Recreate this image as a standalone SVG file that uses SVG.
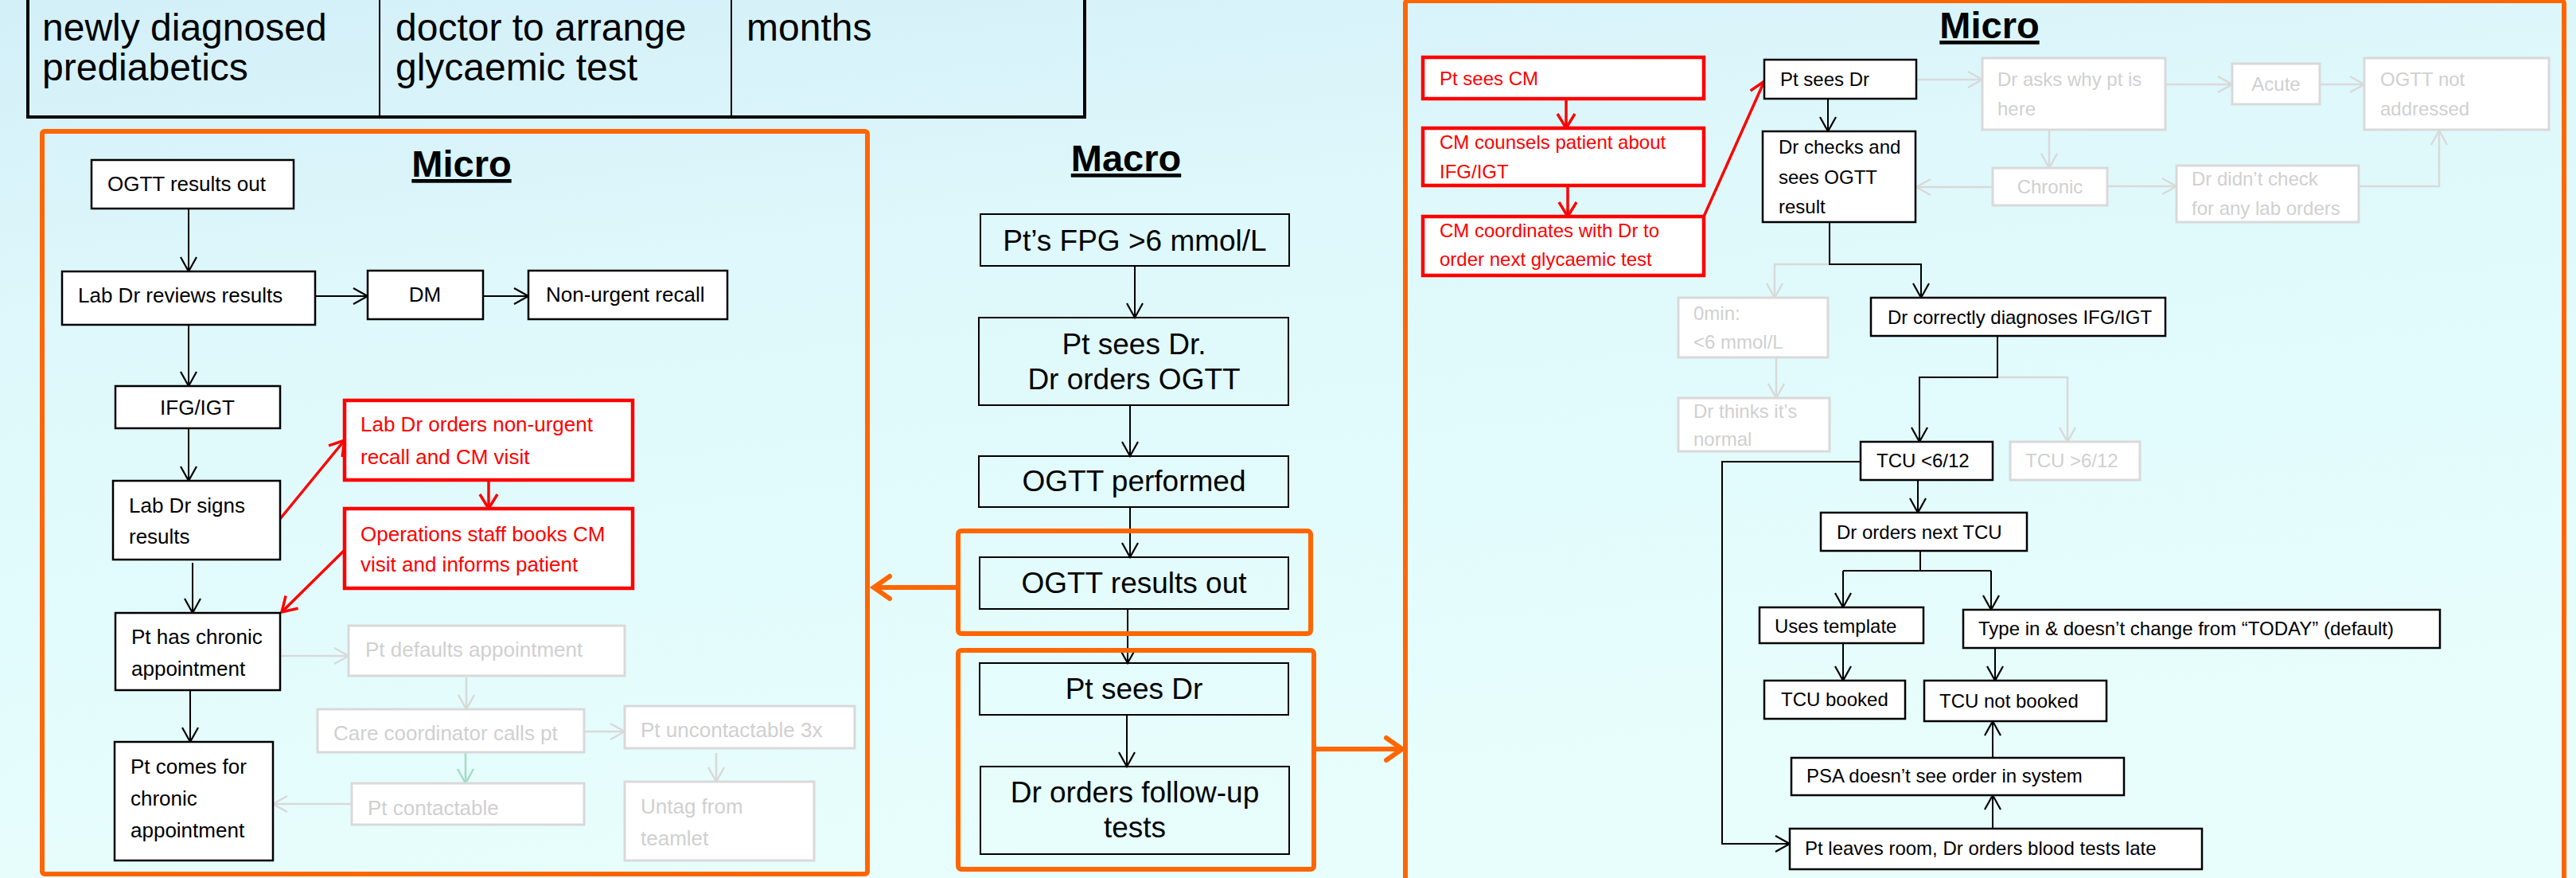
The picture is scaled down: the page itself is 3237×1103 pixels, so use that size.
<svg xmlns="http://www.w3.org/2000/svg" width="3237" height="1103" viewBox="0 0 3237 1103">
<defs>
<linearGradient id="bg" x1="0" y1="0" x2="0.3" y2="1">
<stop offset="0" stop-color="#d3eff8"/>
<stop offset="0.35" stop-color="#def8fb"/>
<stop offset="1" stop-color="#e7fefc"/>
</linearGradient>
<marker id="ak" viewBox="-22 -14 26 28" markerWidth="26" markerHeight="28" refX="0" refY="0" orient="auto" markerUnits="userSpaceOnUse"><path d="M-18,-10 L0,0 L-18,10" fill="none" stroke="#000" stroke-width="2.2"/></marker>
<marker id="ar" viewBox="-24 -16 30 32" markerWidth="30" markerHeight="32" refX="0" refY="0" orient="auto" markerUnits="userSpaceOnUse"><path d="M-18,-11 L0,0 L-18,11" fill="none" stroke="#f00" stroke-width="3.5"/></marker>
<marker id="ag" viewBox="-22 -14 26 28" markerWidth="26" markerHeight="28" refX="0" refY="0" orient="auto" markerUnits="userSpaceOnUse"><path d="M-18,-10 L0,0 L-18,10" fill="none" stroke="#d9d9d9" stroke-width="2.5"/></marker>
<marker id="agr" viewBox="-22 -14 26 28" markerWidth="26" markerHeight="28" refX="0" refY="0" orient="auto" markerUnits="userSpaceOnUse"><path d="M-18,-10 L0,0 L-18,10" fill="none" stroke="#a3dcc6" stroke-width="2.5"/></marker>
<marker id="ao" viewBox="-28 -20 34 40" markerWidth="34" markerHeight="40" refX="0" refY="0" orient="auto" markerUnits="userSpaceOnUse"><path d="M-20,-14 L0,0 L-20,14" fill="none" stroke="#ff6600" stroke-width="6" stroke-linecap="round"/></marker>
</defs>
<style>
.bx{fill:#fff;stroke:#000;stroke-width:2.5}
.rbx{fill:#fff;stroke:#f00;stroke-width:4.5}
.fbx{fill:#fff;stroke:#d9d9d9;stroke-width:3}
.mbx{fill:none;stroke:#000;stroke-width:2}
.panel{fill:none;stroke:#ff6600;stroke-width:6}
.hl{fill:none;stroke:#ff6600;stroke-width:6}
text{font-family:"Liberation Sans",Arial,sans-serif;fill:#000}
.t{font-size:26px}
.s{font-size:24px}
.m{font-size:37px;text-anchor:middle}
.tb{font-size:48px}
.red{fill:#f00}
.fad{fill:#d0d0d0}
.ttl{font-size:47px;font-weight:bold;text-anchor:middle;text-decoration:underline}
.c{fill:none;stroke:#000;stroke-width:2;marker-end:url(#ak)}
.cr{fill:none;stroke:#f00;stroke-width:3.5;marker-end:url(#ar)}
.cg{fill:none;stroke:#d9d9d9;stroke-width:2.5;marker-end:url(#ag)}
.cgr{fill:none;stroke:#a3dcc6;stroke-width:2.5;marker-end:url(#agr)}
.co{fill:none;stroke:#ff6600;stroke-width:6;marker-end:url(#ao)}
.ln{fill:none;stroke:#000;stroke-width:2}
</style>
<rect x="0" y="0" width="3237" height="1103" fill="url(#bg)"/>

<g id="table">
<rect x="35" y="-10" width="1328" height="157" fill="none" stroke="#000" stroke-width="4"/>
<line x1="477" y1="-10" x2="477" y2="147" stroke="#000" stroke-width="2"/>
<line x1="919" y1="-10" x2="919" y2="147" stroke="#000" stroke-width="2"/>
<text class="tb" x="53" y="51">newly diagnosed</text>
<text class="tb" x="53" y="101">prediabetics</text>
<text class="tb" x="497" y="51">doctor to arrange</text>
<text class="tb" x="497" y="101">glycaemic test</text>
<text class="tb" x="938" y="51">months</text>
</g>

<rect class="panel" x="53" y="165" width="1037" height="933" rx="3"/>
<rect class="panel" x="1766" y="1" width="1456" height="1112" rx="3"/>
<text class="ttl" x="580" y="222">Micro</text>
<text class="ttl" x="1415" y="215">Macro</text>
<text class="ttl" x="2500" y="48">Micro</text>

<g id="connectors">
<path class="c" d="M237,262 V341"/>
<path class="c" d="M396,372 H462"/>
<path class="c" d="M607,372 H664"/>
<path class="c" d="M237,408 V485"/>
<path class="c" d="M237,538 V604"/>
<path class="c" d="M242,707 V770"/>
<path class="c" d="M239,867 V932"/>
<path class="cr" d="M351,653 L433,553"/>
<path class="cr" d="M614,603 V639"/>
<path class="cr" d="M434,690 L354,769"/>
<path class="cg" d="M352,824 H438"/>
<path class="cg" d="M586,851 V891"/>
<path class="cg" d="M734,919 H785"/>
<path class="cgr" d="M585,946 V984"/>
<path class="cg" d="M442,1010 H343"/>
<path class="cg" d="M900,946 V982"/>

<path class="c" d="M1426,334 V399"/>
<path class="c" d="M1420,509 V573"/>
<path class="c" d="M1420,637 V700"/>
<path class="c" d="M1417,765 V833"/>
<path class="c" d="M1416,898 V963"/>
<path class="co" d="M1204,738 H1098"/>
<path class="co" d="M1650,941 H1762"/>

<path class="cr" d="M1968,124 V161"/>
<path class="cr" d="M1970,233 V272"/>
<path class="cr" d="M2141,272 L2217,102"/>
<path class="c" d="M2297,124 V165"/>
<path class="cg" d="M2408,100 H2491"/>
<path class="cg" d="M2721,106 H2805"/>
<path class="cg" d="M2915,106 H2971"/>
<path class="cg" d="M2575,163 V211"/>
<path class="cg" d="M2648,234 H2735"/>
<path class="cg" d="M2964,234 H3065 V164"/>
<path class="cg" d="M2504,235 H2408"/>
<path class="cg" d="M2299,332 H2230 V374"/>
<path class="c" d="M2299,279 V332 H2414 V374"/>
<path class="cg" d="M2232,449 V500"/>
<path class="cg" d="M2510,474 H2598 V555"/>
<path class="c" d="M2510,422 V474 H2412 V555"/>
<path class="c" d="M2410,603 V644"/>
<path class="ln" d="M2413,692 V717 M2316,717 H2502"/>
<path class="c" d="M2316,717 V763"/>
<path class="c" d="M2502,717 V766"/>
<path class="c" d="M2316,808 V855"/>
<path class="c" d="M2507,814 V855"/>
<path class="c" d="M2504,952 V906"/>
<path class="c" d="M2504,1041 V999"/>
<path class="c" d="M2339,580 H2164 V1060 H2249"/>
</g>

<g id="n_ogtt_out"><rect class="bx" x="115" y="201" width="254" height="61"/><text class="t" x="135" y="240">OGTT results out</text></g>
<g id="n_lab_reviews"><rect class="bx" x="78" y="341" width="318" height="67"/><text class="t" x="98" y="380">Lab Dr reviews results</text></g>
<g id="n_dm"><rect class="bx" x="462" y="340" width="145" height="61"/><text class="t" x="534" y="379" text-anchor="middle">DM</text></g>
<g id="n_nonurgent"><rect class="bx" x="664" y="340" width="250" height="61"/><text class="t" x="686" y="379">Non-urgent recall</text></g>
<g id="n_ifg"><rect class="bx" x="145" y="485" width="207" height="53"/><text class="t" x="248" y="521" text-anchor="middle">IFG/IGT</text></g>
<g id="n_lab_signs"><rect class="bx" x="142" y="604" width="210" height="99"/><text class="t" x="162" y="644">Lab Dr signs</text><text class="t" x="162" y="683">results</text></g>
<g id="n_lab_orders"><rect class="rbx" x="433" y="503" width="362" height="100"/><text class="t red" x="453" y="542">Lab Dr orders non-urgent</text><text class="t red" x="453" y="583">recall and CM visit</text></g>
<g id="n_ops_books"><rect class="rbx" x="433" y="639" width="362" height="100"/><text class="t red" x="453" y="680">Operations staff books CM</text><text class="t red" x="453" y="718">visit and informs patient</text></g>
<g id="n_chronic_appt"><rect class="bx" x="145" y="770" width="207" height="97"/><text class="t" x="165" y="809">Pt has chronic</text><text class="t" x="165" y="849">appointment</text></g>
<g id="n_comes"><rect class="bx" x="144" y="932" width="199" height="149"/><text class="t" x="164" y="972">Pt comes for</text><text class="t" x="164" y="1012">chronic</text><text class="t" x="164" y="1052">appointment</text></g>
<g id="n_defaults"><rect class="fbx" x="438" y="786" width="347" height="63"/><text class="t fad" x="459" y="825">Pt defaults appointment</text></g>
<g id="n_care"><rect class="fbx" x="399" y="891" width="335" height="54"/><text class="t fad" x="419" y="930">Care coordinator calls pt</text></g>
<g id="n_uncont"><rect class="fbx" x="785" y="887" width="289" height="53"/><text class="t fad" x="805" y="926">Pt uncontactable 3x</text></g>
<g id="n_contactable"><rect class="fbx" x="442" y="984" width="292" height="52"/><text class="t fad" x="462" y="1024">Pt contactable</text></g>
<g id="n_untag"><rect class="fbx" x="785" y="982" width="238" height="99"/><text class="t fad" x="805" y="1022">Untag from</text><text class="t fad" x="805" y="1062">teamlet</text></g>

<g id="m_fpg"><rect class="mbx" x="1232" y="269" width="388" height="65"/><text class="m" x="1426" y="315">Pt’s FPG &gt;6 mmol/L</text></g>
<g id="m_sees_orders"><rect class="mbx" x="1230" y="399" width="389" height="110"/><text class="m" x="1425" y="445">Pt sees Dr.</text><text class="m" x="1425" y="489">Dr orders OGTT</text></g>
<g id="m_performed"><rect class="mbx" x="1230" y="573" width="389" height="64"/><text class="m" x="1425" y="617">OGTT performed</text></g>
<rect class="hl" x="1204" y="667" width="443" height="129" rx="4"/>
<g id="m_results"><rect class="mbx" x="1231" y="700" width="388" height="65"/><text class="m" x="1425" y="745">OGTT results out</text></g>
<rect class="hl" x="1204" y="817" width="447" height="275" rx="4"/>
<g id="m_sees"><rect class="mbx" x="1231" y="833" width="388" height="65"/><text class="m" x="1425" y="878">Pt sees Dr</text></g>
<g id="m_followup"><rect class="mbx" x="1232" y="963" width="388" height="110"/><text class="m" x="1426" y="1008">Dr orders follow-up</text><text class="m" x="1426" y="1052">tests</text></g>

<g id="r_sees_cm"><rect class="rbx" x="1788" y="72" width="353" height="52"/><text class="s red" x="1809" y="107">Pt sees CM</text></g>
<g id="r_counsels"><rect class="rbx" x="1788" y="161" width="353" height="72"/><text class="s red" x="1809" y="187">CM counsels patient about</text><text class="s red" x="1809" y="224">IFG/IGT</text></g>
<g id="r_coordinates"><rect class="rbx" x="1788" y="272" width="353" height="74"/><text class="s red" x="1809" y="298">CM coordinates with Dr to</text><text class="s red" x="1809" y="334">order next glycaemic test</text></g>
<g id="r_sees_dr"><rect class="bx" x="2217" y="75" width="191" height="49"/><text class="s" x="2237" y="108">Pt sees Dr</text></g>
<g id="r_checks"><rect class="bx" x="2215" y="165" width="192" height="114"/><text class="s" x="2235" y="193">Dr checks and</text><text class="s" x="2235" y="231">sees OGTT</text><text class="s" x="2235" y="268">result</text></g>
<g id="r_asks"><rect class="fbx" x="2491" y="73" width="230" height="90"/><text class="s fad" x="2510" y="108">Dr asks why pt is</text><text class="s fad" x="2510" y="145">here</text></g>
<g id="r_acute"><rect class="fbx" x="2805" y="80" width="110" height="51"/><text class="s fad" x="2860" y="114" text-anchor="middle">Acute</text></g>
<g id="r_not_addressed"><rect class="fbx" x="2971" y="73" width="232" height="90"/><text class="s fad" x="2991" y="108">OGTT not</text><text class="s fad" x="2991" y="145">addressed</text></g>
<g id="r_chronic"><rect class="fbx" x="2504" y="211" width="144" height="47"/><text class="s fad" x="2576" y="243" text-anchor="middle">Chronic</text></g>
<g id="r_didnt"><rect class="fbx" x="2735" y="208" width="229" height="71"/><text class="s fad" x="2754" y="233">Dr didn’t check</text><text class="s fad" x="2754" y="270">for any lab orders</text></g>
<g id="r_correct"><rect class="bx" x="2351" y="374" width="370" height="48"/><text class="s" x="2372" y="407">Dr correctly diagnoses IFG/IGT</text></g>
<g id="r_0min"><rect class="fbx" x="2109" y="374" width="188" height="75"/><text class="s fad" x="2128" y="402">0min:</text><text class="s fad" x="2128" y="438">&lt;6 mmol/L</text></g>
<g id="r_thinks"><rect class="fbx" x="2109" y="500" width="190" height="67"/><text class="s fad" x="2128" y="525">Dr thinks it’s</text><text class="s fad" x="2128" y="560">normal</text></g>
<g id="r_tcu_lt"><rect class="bx" x="2338" y="555" width="166" height="48"/><text class="s" x="2358" y="587">TCU &lt;6/12</text></g>
<g id="r_tcu_gt"><rect class="fbx" x="2526" y="555" width="163" height="48"/><text class="s fad" x="2545" y="587">TCU &gt;6/12</text></g>
<g id="r_next_tcu"><rect class="bx" x="2288" y="644" width="259" height="48"/><text class="s" x="2308" y="677">Dr orders next TCU</text></g>
<g id="r_template"><rect class="bx" x="2211" y="763" width="206" height="45"/><text class="s" x="2230" y="795">Uses template</text></g>
<g id="r_typein"><rect class="bx" x="2467" y="766" width="599" height="48"/><text class="s" x="2486" y="798">Type in &amp; doesn’t change from “TODAY” (default)</text></g>
<g id="r_booked"><rect class="bx" x="2217" y="855" width="177" height="48"/><text class="s" x="2238" y="887">TCU booked</text></g>
<g id="r_not_booked"><rect class="bx" x="2418" y="855" width="229" height="51"/><text class="s" x="2437" y="889">TCU not booked</text></g>
<g id="r_psa"><rect class="bx" x="2251" y="952" width="418" height="47"/><text class="s" x="2270" y="983">PSA doesn’t see order in system</text></g>
<g id="r_leaves"><rect class="bx" x="2249" y="1041" width="518" height="51"/><text class="s" x="2268" y="1074">Pt leaves room, Dr orders blood tests late</text></g>
</svg>
